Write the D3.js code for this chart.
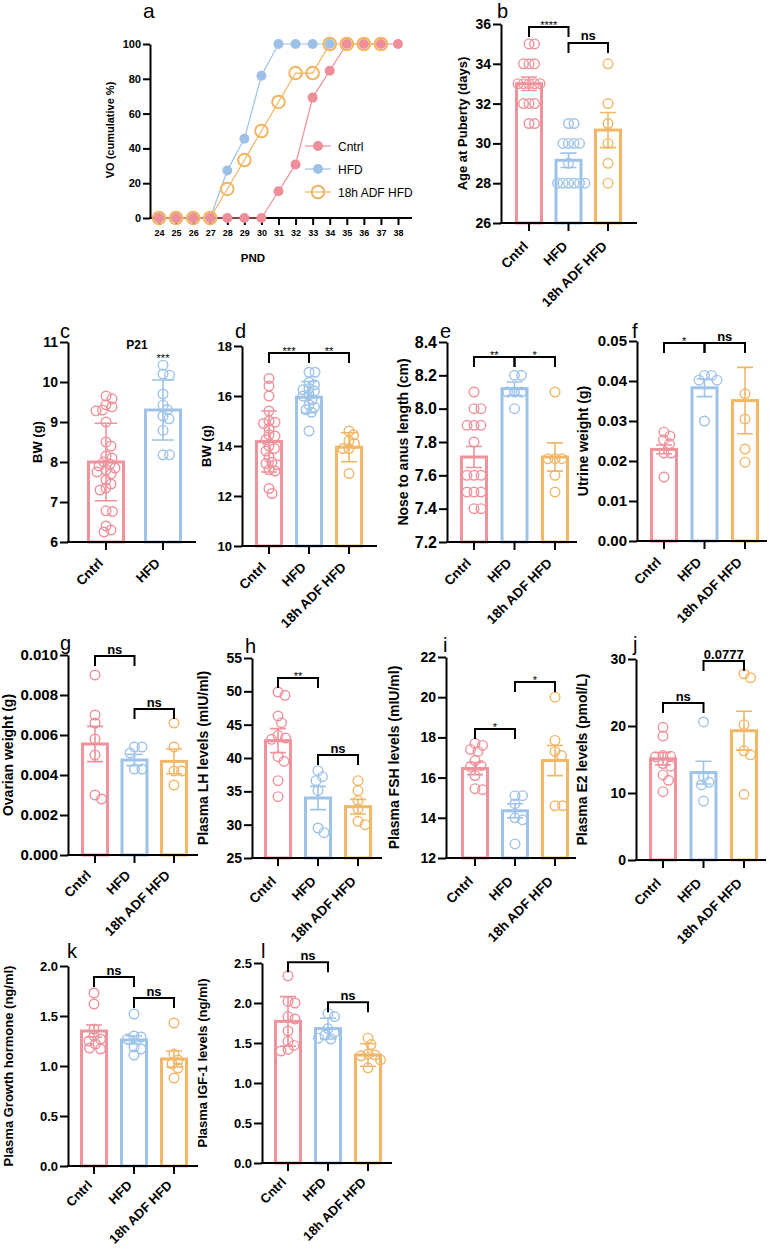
<!DOCTYPE html>
<html><head><meta charset="utf-8">
<script src="https://cdn.jsdelivr.net/npm/d3@7"></script>
<style>body{margin:0;background:#fff} svg{display:block} text{font-family:"Liberation Sans",Arial,sans-serif}</style>
</head><body><svg id="chart" width="774" height="1249"></svg>
<script>
// ---------------- DATA ----------------
const groups = ["Cntrl", "HFD", "18h ADF HFD"];
const groupColors = ["#ef929c", "#9ec3e8", "#f2b766"];

// panel a: cumulative vaginal opening (%)
const aPND = [24, 25, 26, 27, 28, 29, 30, 31, 32, 33, 34, 35, 36, 37, 38];
const aCntrl = [0, 0, 0, 0, 0, 0, 0, 15.4, 30.8, 69.2, 84.6, 100, 100, 100, 100];
const aHFD = [0, 0, 0, 0, 27.3, 45.5, 81.8, 100, 100, 100, 100];
const aADF = [0, 0, 0, 0, 16.7, 33.3, 50, 66.7, 83.3, 83.3, 100, 100, 100, 100];
const aYTicks = [0, 20, 40, 60, 80, 100];

// panel b: age at puberty (days)
const bPts = [[35,35,34,34,34,33,33,33,33,33,32,32,32,31,31],[31,31,30,30,30,30,29,28,28,28,28,28,28],[34,32,31,30,29,28]];
const bMean = [33.0, 29.15, 30.67];
const bErr = [0.34, 0.36, 0.88];
const bTicks = [26, 28, 30, 32, 34, 36];
const bSig = [[0, 1, "****", 35.85], [1, 2, "ns", 35.05]];

// panel c: BW at P21 (g)
const cPts = [[9.65,9.58,9.43,9.38,9.3,9.28,9.0,8.5,8.4,8.15,8.1,8.0,7.95,7.9,7.85,7.8,7.75,7.7,7.55,7.45,7.35,7.3,6.78,6.76,6.4,6.3,6.25],
              [10.42,10.2,10.17,9.7,9.42,9.31,9.15,9.08,8.79,8.18,8.18]];
const cMean = [8.0, 9.3];
const cErr = [0.97, 0.75];
const cTicks = [6, 7, 8, 9, 10, 11];

// panel d: BW (g)
const dPts = [[16.7,16.4,16.0,15.4,15.0,14.95,14.9,14.7,14.45,14.4,14.25,14.0,13.9,13.8,13.55,13.35,13.3,13.25,13.05,13.0,12.3,12.1],
              [16.95,16.95,16.55,16.45,16.3,16.25,16.2,16.05,16.0,15.85,15.65,15.55,15.45,15.35,14.6],
              [14.6,14.45,14.2,14.1,13.9,13.9,12.9]];
const dMean = [14.18, 15.95, 13.95];
const dErr = [1.22, 0.63, 0.58];
const dTicks = [10, 12, 14, 16, 18];
const dSig = [[0, 1, "***", 17.72], [1, 2, "**", 17.72]];

// panel e: nose to anus length (cm)
const ePts = [[8.1,8.0,8.0,7.9,7.9,7.9,7.8,7.6,7.6,7.6,7.5,7.5,7.5,7.4,7.4],[8.2,8.2,8.1,8.1,8.1,8.0],[8.1,7.7,7.7,7.7,7.6,7.5]];
const eMean = [7.71, 8.12, 7.71];
const eErr = [0.063, 0.04, 0.085];
const eTicks = [7.2, 7.4, 7.6, 7.8, 8.0, 8.2, 8.4];
const eSig = [[0, 1, "**", 8.31], [1, 2, "*", 8.31]];

// panel f: uterine weight (g)
const fPts = [[0.0272,0.0262,0.0253,0.0243,0.0220,0.0220,0.0160],[0.0414,0.0414,0.0402,0.0402,0.0300],[0.0368,0.0305,0.0230,0.0197]];
const fMean = [0.0229, 0.0383, 0.0351];
const fErr = [0.0011, 0.0022, 0.0083];
const fTicks = [0, 0.01, 0.02, 0.03, 0.04, 0.05];
const fSig = [[0, 1, "*", 0.0495], [1, 2, "ns", 0.0495]];

// panel g: ovarian weight (g)
const gPts = [[0.0090,0.0070,0.0066,0.0058,0.0050,0.0030,0.0028],[0.0054,0.0054,0.0051,0.0043,0.0043],[0.0066,0.0054,0.0042,0.0042,0.0035]];
const gMean = [0.00555, 0.00475, 0.00468];
const gErr = [0.00088, 0.00028, 0.00062];
const gTicks = [0, 0.002, 0.004, 0.006, 0.008, 0.010];
const gSig = [[0, 1, "ns", 0.00995], [1, 2, "ns", 0.0073]];

// panel h: plasma LH (mIU/ml)
const hPts = [[49.9,49.4,46.3,45.3,43.4,43.0,42.8,40.2,39.5,36.6,34.2],[38.1,37.2,36.6,35.1,29.5,28.8],[36.6,35.1,33.6,32.4,30.5,30.0]];
const hMean = [42.6, 34.0, 32.7];
const hErr = [1.8, 1.75, 1.1];
const hTicks = [25, 30, 35, 40, 45, 50, 55];
const hSig = [[0, 1, "**", 52.0], [1, 2, "ns", 40.45]];

// panel i: plasma FSH (mIU/ml)
const iPts = [[17.7,17.6,17.4,17.3,16.85,16.6,16.55,16.1,15.45,15.4],[15.1,15.1,14.7,14.0,13.9,12.7],[20.0,17.85,17.3,17.1,14.6,14.6]];
const iMean = [16.45, 14.35, 16.85];
const iErr = [0.3, 0.35, 0.75];
const iTicks = [12, 14, 16, 18, 20, 22];
const iSig = [[0, 1, "*", 18.42], [1, 2, "*", 20.76]];

// panel j: plasma E2 (pmol/L)
const jPts = [[19.8,18.5,15.6,15.5,15.4,14.4,14.0,12.7,11.9,10.2],[20.6,12.4,11.6,11.2,8.8],[27.8,27.2,20.2,16.3,15.7,9.8]];
const jMean = [15.1, 13.05, 19.3];
const jErr = [0.9, 1.7, 2.9];
const jTicks = [0, 10, 20, 30];
const jSig = [[0, 1, "ns", 23.43], [1, 2, "0.0777", 29.7]];

// panel k: plasma growth hormone (ng/ml)
const kPts = [[1.73,1.62,1.37,1.30,1.27,1.25,1.22,1.18,1.17],[1.52,1.30,1.29,1.27,1.19,1.17,1.11],[1.43,1.12,1.06,1.02,0.98,0.88]];
const kMean = [1.35, 1.26, 1.07];
const kErr = [0.06, 0.04, 0.08];
const kTicks = [0, 0.5, 1.0, 1.5, 2.0];
const kSig = [[0, 1, "ns", 1.89], [1, 2, "ns", 1.68]];

// panel l: plasma IGF-1 (ng/ml)
const lPts = [[2.34,2.02,2.00,1.83,1.80,1.65,1.52,1.47,1.42,1.40],[1.87,1.83,1.68,1.63,1.60,1.56,1.55],[1.56,1.48,1.36,1.35,1.34,1.29,1.19]];
const lMean = [1.77, 1.68, 1.35];
const lErr = [0.31, 0.13, 0.14];
const lTicks = [0, 0.5, 1.0, 1.5, 2.0, 2.5];
const lSig = [[0, 1, "ns", 2.51], [1, 2, "ns", 2.01]];

// ---------------- DRAWING ----------------
const svg = d3.select("#chart");

function styleAxis(sel, fs) {
  sel.select(".domain").attr("stroke", "#000").attr("stroke-width", 2);
  sel.selectAll(".tick line").attr("stroke", "#000").attr("stroke-width", 2);
  sel.selectAll(".tick text").attr("fill", "#000").attr("font-size", fs).attr("font-weight", "bold")
     .attr("font-family", '"Liberation Sans", Arial, sans-serif');
}

// ---- panel a ----
(function () {
  const g = svg.append("g");
  const x = d3.scaleLinear().domain([24, 38]).range([159, 398]);
  const y = d3.scaleLinear().domain([0, 100]).range([218, 44]);
  const ya = d3.axisLeft(y).tickValues(aYTicks).tickSize(7).tickSizeOuter(0).tickPadding(2);
  styleAxis(g.append("g").attr("transform", "translate(150,0)").call(ya), 11);
  const xa = d3.axisBottom(x).tickValues(aPND).tickSize(7).tickSizeOuter(0).tickPadding(5);
  const xg = g.append("g").attr("transform", "translate(0,218)").call(xa);
  xg.select(".domain").remove();
  styleAxis(xg, 9);
  g.append("line").attr("x1", 149).attr("x2", 412).attr("y1", 218).attr("y2", 218).attr("stroke", "#000").attr("stroke-width", 2);

  const series = [
    {vals: aHFD, col: "#9dc1e6", filled: true},
    {vals: aCntrl, col: "#ee8e99", filled: true},
    {vals: aADF, col: "#f2b460", filled: false}
  ];
  const line = d3.line().x((d, i) => x(aPND[i])).y(d => y(d));
  series.forEach(s => {
    g.append("path").datum(s.vals).attr("d", line).attr("fill", "none").attr("stroke", s.col).attr("stroke-width", 1.2);
  });
  series.forEach(s => {
    g.selectAll(null).data(s.vals).enter().append("circle")
      .attr("cx", (d, i) => x(aPND[i])).attr("cy", d => y(d))
      .attr("r", s.filled ? 5 : 6.3)
      .attr("fill", s.filled ? s.col : "none")
      .attr("stroke", s.col).attr("stroke-width", s.filled ? 0 : 2);
  });
  // legend
  const leg = [["Cntrl", series[1]], ["HFD", series[0]], ["18h ADF HFD", series[2]]];
  leg.forEach((l, i) => {
    const ly = 146 + i * 23;
    g.append("line").attr("x1", 305).attr("x2", 331).attr("y1", ly).attr("y2", ly).attr("stroke", l[1].col).attr("stroke-width", 1.2);
    g.append("circle").attr("cx", 318).attr("cy", ly).attr("r", l[1].filled ? 5 : 6.3)
      .attr("fill", l[1].filled ? l[1].col : "none").attr("stroke", l[1].col).attr("stroke-width", l[1].filled ? 0 : 2);
    g.append("text").attr("x", 338).attr("y", ly + 4.5).attr("font-size", 12).text(l[0]);
  });
  g.append("text").attr("x", 253).attr("y", 262).attr("text-anchor", "middle").attr("font-size", 11.5).attr("font-weight", "bold").text("PND");
  g.append("text").attr("transform", "translate(114,130) rotate(-90)").attr("text-anchor", "middle")
    .attr("font-size", 11).attr("font-weight", "bold").text("VO (cumulative %)");
  g.append("text").attr("x", 143).attr("y", 18).attr("font-size", 21).text("a");
})();

// ---- bar panels ----
function swarm(vals, y, cx, dmin) {
  const pts = vals.map(v => ({v, y: y(v)})).sort((a, b) => a.y - b.y);
  const placed = [];
  pts.forEach(p => {
    for (let k = 0; k < 400; k++) {
      const o = (k % 2 === 1 ? 1 : -1) * Math.ceil(k / 2) * 0.5;
      const px = cx + o;
      if (placed.every(q => (q.x - px) ** 2 + (q.y - p.y) ** 2 >= dmin * dmin)) {
        placed.push({x: px, y: p.y});
        break;
      }
    }
  });
  return placed;
}

function barPanel(cfg) {
  const g = svg.append("g");
  const cats = groups.slice(0, cfg.pts.length);
  const y = d3.scaleLinear().domain([cfg.ticks[0], cfg.ticks[cfg.ticks.length - 1]]).range([cfg.bottom, cfg.top]);
  const x = d3.scalePoint().domain(cats).range(cfg.catRange);
  const bw = cfg.barW;
  cats.forEach((c, i) => {
    const cx = x(c), col = groupColors[i];
    const ym = y(cfg.mean[i]);
    g.append("rect").attr("x", cx - bw / 2).attr("y", ym).attr("width", bw).attr("height", cfg.bottom - ym)
      .attr("fill", "none").attr("stroke", col).attr("stroke-width", 3);
    const cap = bw * 0.32;
    const lo = y(cfg.mean[i] - cfg.err[i]), hi = y(cfg.mean[i] + cfg.err[i]);
    g.append("path").attr("d", `M${cx},${lo}V${hi}M${cx - cap},${hi}H${cx + cap}M${cx - cap},${lo}H${cx + cap}`)
      .attr("stroke", col).attr("stroke-width", 1.6).attr("fill", "none");
    swarm(cfg.pts[i], y, cx, cfg.dmin || 6).forEach(p => {
      g.append("circle").attr("cx", p.x).attr("cy", p.y).attr("r", 4.8)
        .attr("fill", "none").attr("stroke", col).attr("stroke-width", 1.4);
    });
  });
  // y axis
  const ya = d3.axisLeft(y).tickValues(cfg.ticks).tickFormat(cfg.fmt).tickSize(8).tickSizeOuter(0).tickPadding(2);
  styleAxis(g.append("g").attr("transform", `translate(${cfg.left},0)`).call(ya), cfg.tickFs);
  // x axis
  g.append("line").attr("x1", cfg.left - 1).attr("x2", cfg.right).attr("y1", cfg.bottom).attr("y2", cfg.bottom)
    .attr("stroke", "#000").attr("stroke-width", 2);
  cats.forEach((c, i) => {
    const cx = x(c);
    g.append("line").attr("x1", cx).attr("x2", cx).attr("y1", cfg.bottom).attr("y2", cfg.bottom + 8)
      .attr("stroke", "#000").attr("stroke-width", 2);
    g.append("text").attr("transform", `translate(${cx + cfg.labDx},${cfg.bottom + cfg.labDy}) rotate(-45)`)
      .attr("text-anchor", "end").attr("font-size", cfg.labFs || 13.5).attr("font-weight", "bold").text(c);
  });
  // title
  const tx = cfg.titleX + 0.36 * cfg.titleFs;
  g.append("text").attr("transform", `translate(${tx},${(cfg.top + cfg.bottom) / 2}) rotate(-90)`)
    .attr("text-anchor", "middle").attr("font-size", cfg.titleFs).attr("font-weight", "bold").text(cfg.title);
  // letter
  g.append("text").attr("x", cfg.letter[0]).attr("y", cfg.letter[1]).attr("font-size", 20).text(cfg.letterText);
  // significance
  (cfg.sig || []).forEach(s => {
    const x1 = x(cats[s[0]]), x2 = x(cats[s[1]]), yb = y(s[3]);
    g.append("path").attr("d", `M${x1},${yb + 10}V${yb}H${x2}V${yb + 10}`).attr("fill", "none")
      .attr("stroke", "#000").attr("stroke-width", 2);
    const star = s[2].startsWith("*");
    g.append("text").attr("x", (x1 + x2) / 2).attr("y", star ? yb + 2 : yb - 2.5).attr("text-anchor", "middle")
      .attr("font-size", star ? 11 : 13).attr("font-weight", star ? "normal" : "bold").text(s[2]);
  });
  return {g, x, y};
}

const f1 = d3.format(".1f"), f2 = d3.format(".2f"), f3 = d3.format(".3f"), f0 = d3.format("d");

barPanel({pts: bPts, mean: bMean, err: bErr, ticks: bTicks, fmt: f0, sig: bSig, left: 501, right: 637, top: 24, bottom: 223,
  catRange: [529, 608], barW: 25, title: "Age at Puberty (days)", titleX: 462, titleFs: 13, tickFs: 14,
  letter: [497, 18], letterText: "b", labDx: 0, labDy: 24, dmin: 5.2});

const cP = barPanel({pts: cPts, mean: cMean, err: cErr, ticks: cTicks, fmt: f0, left: 68, right: 196, top: 342, bottom: 542,
  catRange: [106, 163], barW: 35, title: "BW (g)", titleX: 37, titleFs: 13, tickFs: 14,
  letter: [60, 338], letterText: "c", labDx: -2, labDy: 22, dmin: 6.2});
cP.g.append("text").attr("x", 137).attr("y", 349).attr("text-anchor", "middle").attr("font-size", 12).attr("font-weight", "bold").text("P21");
cP.g.append("text").attr("x", 163).attr("y", 362).attr("text-anchor", "middle").attr("font-size", 11).text("***");

barPanel({pts: dPts, mean: dMean, err: dErr, ticks: dTicks, fmt: f0, sig: dSig, left: 242, right: 377, top: 346, bottom: 546,
  catRange: [269, 349], barW: 25, title: "BW (g)", titleX: 206, titleFs: 13, tickFs: 13,
  letter: [235, 338], letterText: "d", labDx: -2, labDy: 22, dmin: 5.8});

barPanel({pts: ePts, mean: eMean, err: eErr, ticks: eTicks, fmt: f1, sig: eSig, left: 447, right: 577, top: 342, bottom: 542,
  catRange: [474, 555], barW: 25, title: "Nose to anus length (cm)", titleX: 403, titleFs: 14, tickFs: 16,
  letter: [440, 338], letterText: "e", labDx: -2, labDy: 22, dmin: 7});

barPanel({pts: fPts, mean: fMean, err: fErr, ticks: fTicks, fmt: f2, sig: fSig, left: 637, right: 767, top: 341, bottom: 541,
  catRange: [664, 745], barW: 25, title: "Utrine weight (g)", titleX: 583, titleFs: 14, tickFs: 15,
  letter: [632, 338], letterText: "f", labDx: -2, labDy: 22, dmin: 7});

barPanel({pts: gPts, mean: gMean, err: gErr, ticks: gTicks, fmt: f3, sig: gSig, left: 68, right: 198, top: 655, bottom: 855,
  catRange: [95, 174], barW: 25, title: "Ovarian weight (g)", titleX: 8, titleFs: 14, tickFs: 15,
  letter: [60, 650], letterText: "g", labDx: -3, labDy: 21, dmin: 7.5});

barPanel({pts: hPts, mean: hMean, err: hErr, ticks: hTicks, fmt: f0, sig: hSig, left: 252, right: 382, top: 658, bottom: 858,
  catRange: [278, 358], barW: 25, title: "Plasma LH levels (mIU/ml)", titleX: 203, titleFs: 14, tickFs: 14,
  letter: [245, 653], letterText: "h", labDx: -1, labDy: 24, dmin: 7.5});

barPanel({pts: iPts, mean: iMean, err: iErr, ticks: iTicks, fmt: f0, sig: iSig, left: 446, right: 576, top: 657, bottom: 858,
  catRange: [475, 555], barW: 25, title: "Plasma FSH levels (mIU/ml)", titleX: 394, titleFs: 14, tickFs: 14,
  letter: [443, 652], letterText: "i", labDx: -1, labDy: 24, dmin: 7.5});

barPanel({pts: jPts, mean: jMean, err: jErr, ticks: jTicks, fmt: f0, sig: jSig, left: 636, right: 766, top: 659, bottom: 860,
  catRange: [663, 744], barW: 25, title: "Plasma E2 levels (pmol/L)", titleX: 582, titleFs: 14, tickFs: 14,
  letter: [633, 651], letterText: "j", labDx: -1, labDy: 24, dmin: 7.5});

barPanel({pts: kPts, mean: kMean, err: kErr, ticks: kTicks, fmt: f1, sig: kSig, left: 68, right: 198, top: 966, bottom: 1166,
  catRange: [94, 174], barW: 25, title: "Plasma Growth hormone (ng/ml)", titleX: 8, titleFs: 13, tickFs: 13,
  letter: [67, 958], letterText: "k", labDx: -1, labDy: 20, labFs: 13, dmin: 7});

barPanel({pts: lPts, mean: lMean, err: lErr, ticks: lTicks, fmt: f1, sig: lSig, left: 262, right: 392, top: 963, bottom: 1163,
  catRange: [288, 368], barW: 25, title: "Plasma IGF-1 levels (ng/ml)", titleX: 202, titleFs: 13, tickFs: 13,
  letter: [261, 958], letterText: "l", labDx: -1, labDy: 20, labFs: 13, dmin: 7});
</script></body></html>
